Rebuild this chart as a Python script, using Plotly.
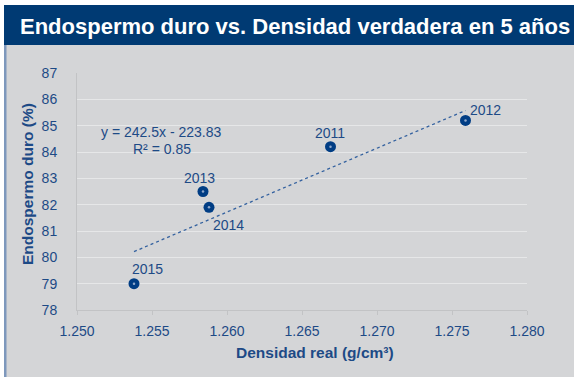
import plotly.graph_objects as go

# Hard endosperm vs. true density, one point per harvest year
years = ["2011", "2012", "2013", "2014", "2015"]
densidad = [1.2669, 1.2759, 1.2584, 1.2588, 1.2538]
endospermo = [84.2, 85.2, 82.5, 81.9, 79.0]

# Linear trend as reported on the chart
pendiente = 242.5
intercepto = -223.83
r2 = 0.85

x_ticks = [1.250, 1.255, 1.260, 1.265, 1.270, 1.275, 1.280]
y_ticks = [78, 79, 80, 81, 82, 83, 84, 85, 86, 87]

# label offsets (px) for each year tag: (xshift, yshift)
label_offsets = {"2011": (-1, 14), "2012": (20, 10), "2013": (-4, 14),
                 "2014": (19, -18), "2015": (13, 15)}

BLUE_TEXT = "#1D4A86"
MARK = "#003D84"
BAND = "#003A73"
BG = "#D4D5D7"
GRID = "#E6E7E8"
AXIS = "#C2C3C5"

W, H = 574, 377
ML, MR, MT, MB = 77, 47, 73, 67
PW, PH = W - ML - MR, H - MT - MB


def px_x(p):
    # figure pixel column -> paper coordinate
    return (p - ML) / PW


def px_y(p):
    # figure pixel row (from top) -> paper coordinate
    return (H - MB - p) / PH


def text_at(x, y, text, size, color=BLUE_TEXT, xanchor="center", angle=0):
    return dict(x=px_x(x), y=px_y(y), xref="paper", yref="paper",
                xanchor=xanchor, yanchor="middle", textangle=angle,
                text=text, showarrow=False, font=dict(size=size, color=color))


fig = go.Figure()

# trend line between the extreme densities
x0, x1 = min(densidad), max(densidad)
fig.add_trace(go.Scatter(
    x=[x0, x1], y=[pendiente * x0 + intercepto, pendiente * x1 + intercepto],
    mode="lines", line=dict(color="#33619F", width=1.3, dash="dot"),
    hoverinfo="skip", showlegend=False))

fig.add_trace(go.Scatter(
    x=densidad, y=endospermo, mode="markers",
    marker=dict(size=11, color=MARK, line=dict(width=0)),
    showlegend=False))
fig.add_trace(go.Scatter(
    x=densidad, y=endospermo, mode="markers",
    marker=dict(size=2.5, color="#8FA8CC", line=dict(width=0)),
    hoverinfo="skip", showlegend=False))

annotations = []
for yr, xv, yv in zip(years, densidad, endospermo):
    dx, dy = label_offsets[yr]
    annotations.append(dict(
        x=xv, y=yv, xref="x", yref="y", text=yr, showarrow=False,
        xanchor="center", yanchor="middle",
        xshift=dx, yshift=dy, font=dict(size=14, color=BLUE_TEXT)))

annotations += [
    text_at(161, 132, f"y = {pendiente}x - {abs(intercepto)}", 14),
    text_at(162, 149, f"R² = {r2}", 14),
    text_at(18, 27, "<b>Endospermo duro vs. Densidad verdadera en 5 años</b>",
            22, color="white", xanchor="left"),
    text_at(315, 352, "<b>Densidad real (g/cm³)</b>", 15.5),
    text_at(27, 184, "<b>Endospermo duro (%)</b>", 15.5, angle=-90),
]

shapes = [
    # grey panel
    dict(type="rect", xref="paper", yref="paper", x0=px_x(6), x1=px_x(W + 2),
         y0=px_y(H + 2), y1=px_y(45), fillcolor=BG, line=dict(width=0), layer="below"),
    # title band
    dict(type="rect", xref="paper", yref="paper", x0=px_x(4), x1=px_x(W + 2),
         y0=px_y(45), y1=px_y(5), fillcolor=BAND, line=dict(width=0), layer="below"),
    # left border of the panel
    dict(type="rect", xref="paper", yref="paper", x0=px_x(4), x1=px_x(6.5),
         y0=px_y(H + 2), y1=px_y(45), fillcolor="#7E98BC", line=dict(width=0), layer="below"),
]

fig.update_layout(
    width=W, height=H,
    margin=dict(l=ML, r=MR, t=MT, b=MB),
    paper_bgcolor="white", plot_bgcolor=BG,
    font=dict(family="Liberation Sans, Arial, sans-serif", color=BLUE_TEXT),
    annotations=annotations, shapes=shapes,
    xaxis=dict(range=[1.250, 1.280], tickvals=x_ticks, tickformat=".3f",
               showgrid=False, zeroline=False, showline=True, linecolor=AXIS,
               linewidth=1, ticks="outside", ticklen=4, tickcolor=AXIS,
               tickfont=dict(size=14, color=BLUE_TEXT), ticklabelstandoff=4),
    yaxis=dict(range=[78, 87], tickvals=y_ticks, showgrid=True, gridcolor=GRID,
               gridwidth=1, zeroline=False, showline=True, linecolor=AXIS,
               linewidth=1, ticks="", tickfont=dict(size=14, color=BLUE_TEXT),
               ticklabelstandoff=16),
)

fig.write_html("out.html")
